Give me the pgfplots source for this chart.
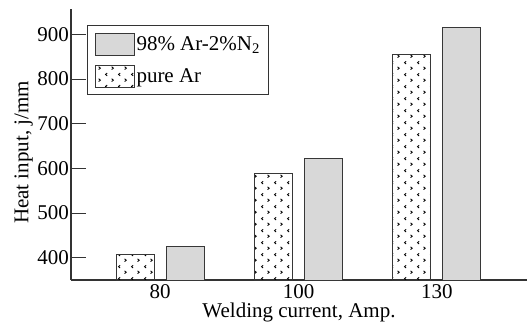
\documentclass[border=0pt]{standalone}
\usepackage{pgfplots}
\pgfplotsset{compat=1.18}
\usepackage{fontspec}
\setmainfont{Liberation Serif}
\usetikzlibrary{patterns.meta}
\definecolor{barfill}{RGB}{216,216,216}
\definecolor{edge}{RGB}{55,55,55}
\tikzdeclarepattern{
  name=chev,
  type=uncolored,
  bottom left={(0pt,0pt)},
  top right={(13pt,12pt)},
  tile size={(13pt,12pt)},
  code={
    \draw[line width=0.9pt] (3.4pt,7.5pt) -- (1.6pt,9pt) -- (3.4pt,10.5pt);
    \draw[line width=0.9pt] (8.1pt,1.5pt) -- (9.9pt,3pt) -- (8.1pt,4.5pt);
  }
}
\begin{document}
\begin{tikzpicture}
\begin{axis}[
  scale only axis, width=456pt, height=271pt,
  xmin=-0.643, xmax=2.65, ymin=350, ymax=957,
  axis x line=bottom, axis y line=left,
  axis line style={-, draw=black!80, line width=1.1pt},
  xtick={0,1,2}, xticklabels={80,100,130},
  ytick={400,500,...,900},
  tick align=inside, major tick length=15pt,
  tick style={draw=black!80, line width=1pt},
  x tick style={draw=none},
  font=\fontsize{21}{25}\selectfont,
  tick label style={font=\fontsize{21}{25}\selectfont},
  /pgf/number format/assume math mode=true,
  yticklabel style={inner xsep=2pt},
  xticklabel style={inner ysep=2pt, yshift=13pt},
  xlabel={Welding current, Amp.}, ylabel={Heat input, j/mm},
  xlabel style={yshift=1pt},
  ylabel style={xshift=-8pt, yshift=-1pt},
  ybar, bar width=38pt,
  legend image code/.code={\draw[#1] (0pt,-11pt) rectangle (39pt,11pt);},
  legend style={at={(0,1)}, anchor=north west, xshift=16pt, yshift=-16pt,
    draw=black!80, line width=1pt, cells={anchor=west}, row sep=9pt,
    inner xsep=7pt, inner ysep=7pt, font=\fontsize{21}{25}\selectfont},
]
\addplot[ybar, bar shift=25pt, fill=barfill, draw=edge, line width=1pt] coordinates {(0,424) (1,622) (2,916)};
\addplot[ybar, bar shift=-25pt, pattern=chev, draw=edge, line width=1pt] coordinates {(0,407) (1,588) (2,856)};
\legend{98\% Ar-2\%N\textsubscript{2}, pure Ar}
\end{axis}
\pgfresetboundingbox
\path[use as bounding box] (-71pt,-42pt) rectangle (456pt,280pt);
\end{tikzpicture}
\end{document}
